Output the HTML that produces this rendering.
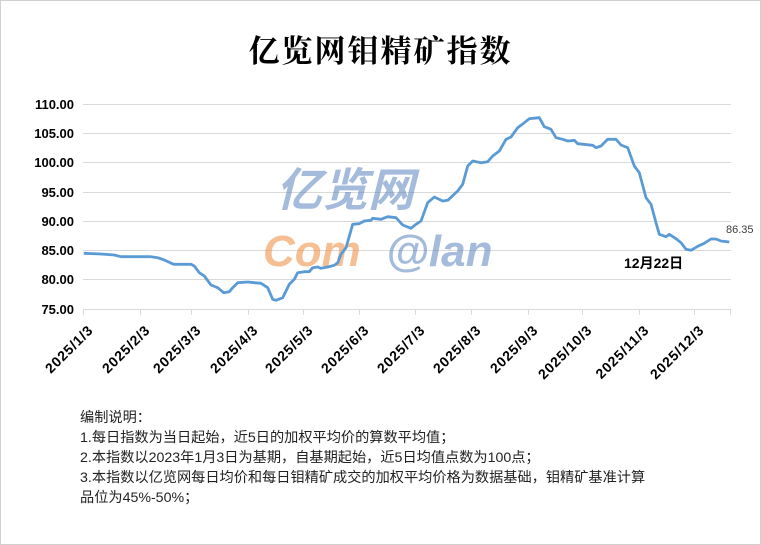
<!DOCTYPE html>
<html><head><meta charset="utf-8"><style>
body{margin:0;background:#fff}
#c{position:relative;width:759px;height:543px;border:1px solid #d0d0d0;overflow:hidden;font-family:"Liberation Sans","Noto Sans CJK SC",sans-serif}
.t{position:absolute;left:0;width:759px;top:25px;text-align:center;font-size:31px;font-weight:bold;font-family:"Noto Serif CJK SC","Noto Sans CJK SC",serif;letter-spacing:2px}
.n{position:absolute;left:79px;top:407px;font-size:14.2px;line-height:20px;color:#222}
</style></head><body><div id="c">
<div class="t">亿览网钼精矿指数</div>
<svg width="759" height="400" style="position:absolute;left:0;top:0">
<g stroke="#d9d9d9" stroke-width="1">
<line x1="82" x2="730" y1="103.5" y2="103.5"/><line x1="82" x2="730" y1="132.5" y2="132.5"/><line x1="82" x2="730" y1="161.5" y2="161.5"/><line x1="82" x2="730" y1="191.5" y2="191.5"/><line x1="82" x2="730" y1="220.5" y2="220.5"/><line x1="82" x2="730" y1="249.5" y2="249.5"/><line x1="82" x2="730" y1="278.5" y2="278.5"/><line x1="82" x2="730" y1="308.5" y2="308.5"/>
<path d="M82.5 308v6M139.5 308v6M190.5 308v6M247.5 308v6M302.5 308v6M358.5 308v6M414.5 308v6M470.5 308v6M527.5 308v6M581.5 308v6M638.5 308v6M693.5 308v6M729.5 308v6"/>
</g>
<g font-weight="bold" font-size="13" text-anchor="end" fill="#000">
<text x="73" y="108">110.00</text><text x="73" y="137">105.00</text><text x="73" y="166">100.00</text><text x="73" y="196">95.00</text><text x="73" y="225">90.00</text><text x="73" y="254">85.00</text><text x="73" y="283">80.00</text><text x="73" y="313">75.00</text>
</g>
<g font-size="44" font-weight="bold" font-style="italic" opacity="0.55">
<text x="275" y="205" fill="#5b84c0" font-family="Noto Sans CJK SC,sans-serif" font-size="46">亿览网</text>
<text x="262" y="265" fill="#f08a3c" font-family="Liberation Sans">Com</text>
<text x="385" y="265" fill="#5b84c0" font-family="Liberation Sans">@lan</text>
</g>
<polyline fill="none" stroke="#5b9bd5" stroke-width="2.8" stroke-linejoin="round" points="82.7,252.3 100,253 113.3,254 120,255.7 140,255.7 150,255.7 156.7,256.7 163.3,259 172.7,263.3 190,263.3 193.3,265 198.3,271.7 203.3,275 210,284 216.7,286.7 222.7,291.7 228.3,290.7 231.7,286.7 236.7,281.7 246.7,281 253.3,281.7 260,282.3 266.7,286.7 271.7,298.3 275,299.3 281.7,296.7 288.3,283.3 293.3,278.3 296.7,271.7 303.3,270.7 308.3,270.7 311.7,266.7 316.7,266 320,267.3 326.7,266 333.3,264.3 336.7,261.7 340,253.3 345,246.7 351.7,223.3 358.3,222.7 363.3,220 370,219.3 371.7,217.3 380,218.3 386.7,215.7 395,216.7 401.7,224 410,227.3 415,223.3 420,220 426.7,201.7 433.3,196 441.7,200 446.7,199.3 456.7,190 461.7,183.3 466.7,165 471.7,160 480,161.7 486.7,160.7 491.7,155 498.3,150 505,138.3 510,136 516.7,126.7 523.3,121.7 528.3,117.7 538.3,116.7 543.3,125.7 550,128.3 555,136.7 561.7,138.3 566.7,140 573.3,139.3 576.7,142.7 591.7,144.3 595,146.7 600,145 606.7,138.3 615,138.3 620,144 626.7,146.7 633.3,165 638.3,171.7 645,196.7 650,203.3 655,221.7 658.3,233.3 665,235.7 668.3,233.3 675,237.7 680,241.7 685,248.3 690,249.3 696.7,245.3 703.3,242.3 710,238 715,238 720,240 728.3,241"/>
<text x="725" y="232" font-size="11" fill="#404040">86.35</text>
<text x="623" y="267" font-size="14" font-weight="bold" fill="#000" font-family="Liberation Sans,Noto Sans CJK SC,sans-serif">12月22日</text>
<g font-weight="bold" font-size="14" text-anchor="end" fill="#000" letter-spacing="0.8">
<text transform="translate(93,330) rotate(-45)">2025/1/3</text>
<text transform="translate(150,330) rotate(-45)">2025/2/3</text>
<text transform="translate(201,330) rotate(-45)">2025/3/3</text>
<text transform="translate(258,330) rotate(-45)">2025/4/3</text>
<text transform="translate(313,330) rotate(-45)">2025/5/3</text>
<text transform="translate(369,330) rotate(-45)">2025/6/3</text>
<text transform="translate(425,330) rotate(-45)">2025/7/3</text>
<text transform="translate(481,330) rotate(-45)">2025/8/3</text>
<text transform="translate(538,330) rotate(-45)">2025/9/3</text>
<text transform="translate(592,330) rotate(-45)">2025/10/3</text>
<text transform="translate(649,330) rotate(-45)">2025/11/3</text>
<text transform="translate(704,330) rotate(-45)">2025/12/3</text>
</g>
</svg>
<div class="n">编制说明：<br>1.每日指数为当日起始，近5日的加权平均价的算数平均值；<br>2.本指数以2023年1月3日为基期，自基期起始，近5日均值点数为100点；<br>3.本指数以亿览网每日均价和每日钼精矿成交的加权平均价格为数据基础，钼精矿基准计算<br>品位为45%-50%；</div>
</div></body></html>
